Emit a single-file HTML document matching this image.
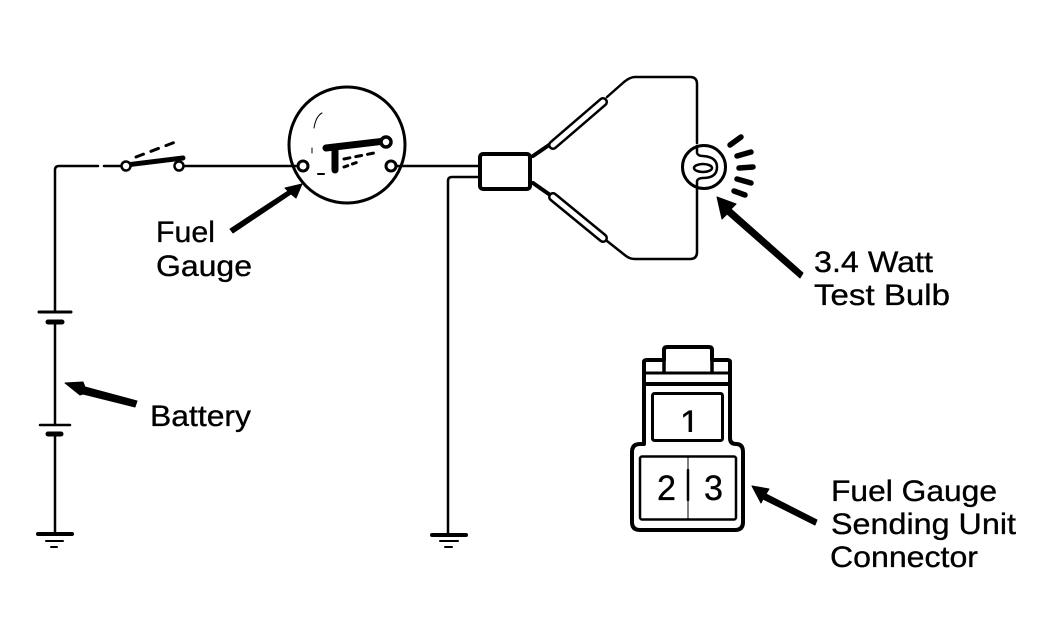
<!DOCTYPE html>
<html>
<head>
<meta charset="utf-8">
<style>
html,body{margin:0;padding:0;background:#fff;width:1052px;height:644px;overflow:hidden}
svg{display:block}
text{font-family:"Liberation Sans",sans-serif;font-size:30px;fill:#000;stroke:#000;stroke-width:.35px}
</style>
</head>
<body>
<svg width="1052" height="644" viewBox="0 0 1052 644">
<g fill="none" stroke="#000" stroke-width="2.5" stroke-linecap="round" stroke-linejoin="round">
  <!-- left wire and switch -->
  <path d="M55 312V170Q55 166 59 166H98M104 166H122"/>
  <path d="M185 166H300"/>
  <path d="M126 165L183 158" stroke-width="5"/>
  <path d="M136 157L178 141" stroke-dasharray="8 8" stroke-width="3"/>
  <circle cx="126" cy="166" r="4.5" fill="#fff"/>
  <circle cx="179" cy="166" r="4.5" fill="#fff"/>
  <!-- gauge -->
  <circle cx="347" cy="145" r="58" stroke-width="3"/>
  <path d="M314 128Q316 116 322 113" stroke-width="1"/>
  <path d="M312 148V153" stroke-width="1"/>
  <path d="M318 174H324" stroke-width="2"/>
  <path d="M326 148L385 141" stroke-width="7"/>
  <path d="M335 150L335 170" stroke-width="7"/>
  <path d="M344 159L374 153" stroke-width="3" stroke-dasharray="6 6"/>
  <path d="M344 167L358 162" stroke-width="3" stroke-dasharray="4 5"/>
  <circle cx="386" cy="142" r="5" fill="#fff" stroke-width="3.5"/>
  <circle cx="303" cy="166" r="5" fill="#fff" stroke-width="3"/>
  <circle cx="391" cy="166" r="5" fill="#fff" stroke-width="3"/>
  <!-- wires to connector -->
  <path d="M397 166H478"/>
  <path d="M478 177H452Q448 177 448 181V534"/>
  <rect x="480" y="154" width="50" height="35" rx="3" fill="#fff" stroke-width="4"/>
  <!-- sleeves -->
  <path d="M533 156L552 143" stroke-width="4"/>
  <path d="M533 183L553 197" stroke-width="4"/>
  <path d="M553 145L603 102" stroke-width="10"/>
  <path d="M553 145L603 102" stroke-width="5" stroke="#fff"/>
  <path d="M553 197L603 238" stroke-width="10"/>
  <path d="M553 197L603 238" stroke-width="5" stroke="#fff"/>
  <path d="M607 97L624 82Q630 77 635 77H690Q697 77 697 84V143"/>
  <path d="M607 241L626 256Q630 259 635 259H690Q697 259 697 252V193"/>
  <!-- bulb -->
  <circle cx="704" cy="167" r="21.5" stroke-width="3"/>
  <path d="M697 146V153Q698 156 703 156Q717 157 717 167Q717 178 703 178Q698 178 697 181V192" stroke-width="2.5"/>
  <ellipse cx="703" cy="168" rx="9" ry="4" stroke-width="2.5"/>
  <!-- rays -->
  <g stroke-width="5.5">
    <path d="M730 145L741 137"/>
    <path d="M737 156L751 152"/>
    <path d="M739 168L753 167"/>
    <path d="M737 179L751 183"/>
    <path d="M734 191L745 195"/>
  </g>
  <!-- battery -->
  <path d="M39 312H71" stroke-width="3"/>
  <path d="M48 322H62" stroke-width="5"/>
  <path d="M55 322V425"/>
  <path d="M40 425H70" stroke-width="2.5"/>
  <path d="M48 434H61" stroke-width="5"/>
  <path d="M55 434V533"/>
  <!-- grounds -->
  <path d="M38 534H72" stroke-width="4"/>
  <path d="M46 541H63" stroke-width="2"/>
  <path d="M51 547H57" stroke-width="2"/>
  <path d="M432 535H466" stroke-width="4"/>
  <path d="M440 541H458" stroke-width="2"/>
  <path d="M445 547H452" stroke-width="2"/>
  <!-- connector diagram -->
  <g stroke-width="4">
    <path d="M644 444V362Q644 360 647 360H664V350Q664 347 667 347H709Q712 347 712 350V360H727Q730 360 730 362V438Q730 444 736 444Q743 444 743 452V522Q743 530 735 530H640Q632 530 632 522V452Q632 444 640 444Z" fill="#fff"/>
    <path d="M664 360V372M712 360V372" stroke-width="3.5"/>
    <path d="M646 373H730" stroke-width="3"/>
    <path d="M646 384H730" stroke-width="4"/>
    <rect x="652.5" y="393.5" width="70" height="47" rx="2" stroke-width="3"/>
    <rect x="640" y="456.5" width="96" height="63" rx="2" stroke-width="2.5"/>
    <path d="M688 456V470" stroke-width="1"/>
    <path d="M688 470V500" stroke-width="2.5"/>
    <path d="M688 500V520" stroke-width="1"/>
  </g>
</g>
<!-- arrows -->
<g fill="#000" stroke="#000" stroke-width="1" stroke-linejoin="round">
  <path d="M230 229L233 233L291 194L296 198L302 184L285 188L288 191Z"/>
  <path d="M717 197L736 204L731 209L803 273L800 278L727 214L722 219Z"/>
  <path d="M65 383L83 382L85 387L137 401L135 407L83 394L80 395Z"/>
  <path d="M752 486L769 489L766 494L817 520L815 525L763 499L761 503Z"/>
</g>
<!-- labels -->
<text x="156" y="242" textLength="59" lengthAdjust="spacingAndGlyphs">Fuel</text>
<text x="156" y="276" textLength="96" lengthAdjust="spacingAndGlyphs">Gauge</text>
<text x="150" y="426" textLength="101" lengthAdjust="spacingAndGlyphs">Battery</text>
<text x="814" y="272" textLength="119" lengthAdjust="spacingAndGlyphs">3.4 Watt</text>
<text x="814" y="305" textLength="136" lengthAdjust="spacingAndGlyphs">Test Bulb</text>
<text x="831" y="501" textLength="166" lengthAdjust="spacingAndGlyphs">Fuel Gauge</text>
<text x="831" y="534" textLength="185" lengthAdjust="spacingAndGlyphs">Sending Unit</text>
<text x="830" y="567" textLength="148" lengthAdjust="spacingAndGlyphs">Connector</text>
<text x="680" y="435" style="font-size:35px">1</text>
<rect x="670" y="432" width="30" height="6" fill="#fff"/>
<text x="657" y="500" style="font-size:35px" textLength="19" lengthAdjust="spacingAndGlyphs">2</text>
<text x="704" y="500" style="font-size:35px" textLength="19" lengthAdjust="spacingAndGlyphs">3</text>
</svg>
</body>
</html>
